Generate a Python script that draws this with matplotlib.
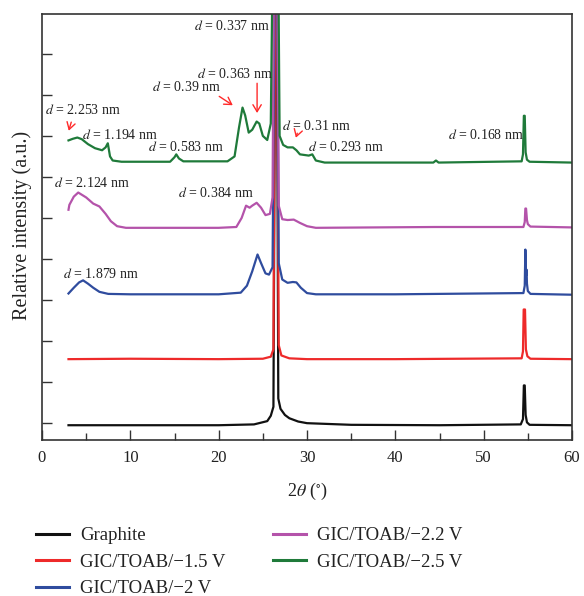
import matplotlib
matplotlib.use("Agg")
import matplotlib.pyplot as plt
from matplotlib.ticker import MultipleLocator, NullFormatter

plt.rcParams['font.family'] = ['Liberation Serif', 'DejaVu Serif']
plt.rcParams['mathtext.fontset'] = 'stix'

# ---- data (2theta, relative intensity with vertical offsets) ----
graphite_x = [3, 10, 20, 24, 25.5, 25.9, 26.2, 26.44, 26.56, 26.75, 27.0, 27.5, 28, 29, 30, 35, 45,
              54.2, 54.45, 54.55, 54.65, 54.75, 54.9, 55.2, 60]
graphite_y = [-0.05, -0.05, -0.05, -0.03, 0.05, 0.18, 0.4, 12, 12, 0.6, 0.35, 0.2, 0.12, 0.04, 0.0, -0.04, -0.05,
              -0.03, 0.1, 0.92, 0.92, 0.2, 0.02, -0.04, -0.05]

v15_x = [3, 10, 20, 25, 25.9, 26.2, 26.42, 26.56, 26.8, 27.1, 28, 30, 40,
         54.3, 54.45, 54.53, 54.68, 54.78, 54.95, 55.3, 60]
v15_y = [1.56, 1.57, 1.56, 1.57, 1.62, 1.8, 12, 12, 1.9, 1.65, 1.58, 1.56, 1.56,
         1.58, 1.75, 2.77, 2.77, 1.8, 1.63, 1.57, 1.56]

v20_x = [3, 3.6, 4.2, 4.65, 5.2, 5.8, 6.5, 7.5, 10, 20, 22.5, 23.2, 23.8, 24.4, 24.8, 25.3, 25.7, 26.1,
         26.38, 26.58, 26.8, 27.2, 27.8, 28.4, 28.8, 29.3, 30, 31, 40,
         54.5, 54.65, 54.72, 54.8, 54.86, 54.9, 55.0, 55.3, 60]
v20_y = [3.16, 3.3, 3.43, 3.48, 3.4, 3.3, 3.2, 3.15, 3.14, 3.14, 3.18, 3.35, 3.7, 4.11, 3.9, 3.65, 3.62, 3.8,
         12, 12, 3.9, 3.5, 3.42, 3.44, 3.43, 3.3, 3.17, 3.14, 3.14,
         3.17, 3.35, 4.23, 3.6, 3.74, 3.4, 3.22, 3.15, 3.13]

v22_x = [3, 3.1, 3.6, 4.1, 5.0, 5.8, 6.5, 7.2, 7.8, 8.5, 9.5, 20, 22, 22.6, 23.1, 23.5, 23.8, 24.3, 24.8,
         25.3, 25.8, 26.1, 26.28, 26.62, 26.8, 27.2, 27.8, 28.5, 29.2, 30, 31, 44.5, 54.5,
         54.65, 54.72, 54.8, 54.9, 55.0, 55.3, 60]
v22_y = [5.2, 5.32, 5.52, 5.62, 5.5, 5.35, 5.28, 5.1, 4.92, 4.8, 4.76, 4.76, 4.78, 5.0, 5.3, 5.25, 5.3, 5.37, 5.25,
         5.07, 5.1, 5.5, 12, 12, 5.3, 4.97, 4.95, 4.96, 4.88, 4.8, 4.76, 4.78, 4.78,
         4.9, 5.23, 5.23, 4.95, 4.85, 4.79, 4.77]

v25_x = [3, 3.5, 4.0, 4.5, 5.2, 6.0, 6.8, 7.2, 7.45, 7.7, 8.0, 9, 14.5, 15.0, 15.2, 15.5, 16, 21, 21.8,
         22.3, 22.7, 23.0, 23.4, 23.8, 24.3, 24.6, 25.0, 25.5, 25.9, 26.15, 26.72, 26.9, 27.3, 27.8, 28.4,
         28.8, 29.2, 30.2, 30.6, 31.0, 32, 44.3, 44.6, 44.9, 54.3, 54.45, 54.55, 54.65, 54.75, 54.9, 55.2, 60]
v25_y = [6.89, 6.93, 6.96, 6.92, 6.8, 6.7, 6.65, 6.72, 6.82, 6.5, 6.4, 6.37, 6.37, 6.48, 6.55, 6.45, 6.38, 6.38, 6.5,
         7.2, 7.69, 7.5, 7.08, 7.15, 7.35, 7.3, 7.0, 6.9, 7.3, 12, 12, 7.0, 6.78, 6.72, 6.72,
         6.65, 6.55, 6.52, 6.55, 6.4, 6.35, 6.35, 6.4, 6.35, 6.38, 6.55, 7.49, 7.49, 6.6, 6.42, 6.37, 6.35]

series = [
    ("Graphite", graphite_x, graphite_y, "#111111"),
    ("GIC/TOAB/\u22121.5 V", v15_x, v15_y, "#ee2a2a"),
    ("GIC/TOAB/\u22122 V", v20_x, v20_y, "#2f4c9e"),
    ("GIC/TOAB/\u22122.2 V", v22_x, v22_y, "#b453aa"),
    ("GIC/TOAB/\u22122.5 V", v25_x, v25_y, "#1f7a3a"),
]

# annotations: text, x, y, ha
labels = [
    ("0.337", 25.82, 9.68, "right"),
    ("0.363", 17.55, 8.52, "left"),
    ("0.39", 12.46, 8.18, "left"),
    ("2.253", 0.34, 7.64, "left"),
    ("1.194", 4.53, 7.03, "left"),
    ("0.583", 12.0, 6.74, "left"),
    ("2.124", 1.36, 5.84, "left"),
    ("0.384", 15.4, 5.60, "left"),
    ("1.879", 2.38, 3.63, "left"),
    ("0.31", 27.18, 7.25, "left"),
    ("0.293", 30.12, 6.74, "left"),
    ("0.168", 45.98, 7.01, "left"),
]
arrows = [
    ((3.4, 7.40), (2.94, 7.06)),
    ((19.8, 8.0), (21.86, 7.71)),
    ((24.35, 8.35), (24.35, 7.49)),
    ((28.99, 7.13), (28.65, 6.89)),
]

fig = plt.figure(figsize=(5.84, 5.96), dpi=100)
ax = fig.add_axes([42/584, 1-440/596, 530/584, 426/596])

for name, xs, ys, c in series:
    ax.plot(xs, ys, color=c, lw=1.6, label=name, solid_joinstyle='round')

for t, x, y, ha in labels:
    ax.text(x, y, r'$d$ = ' + t + ' nm', fontsize=10, ha=ha, va='center', color='#222222')

for (x0, y0), (x1, y1) in arrows:
    ax.annotate('', xy=(x1, y1), xytext=(x0, y0),
                arrowprops=dict(arrowstyle='->,head_length=0.5,head_width=0.3', color='#ff2a2a', lw=1.0))

ax.set_xlim(0, 60)
ax.set_ylim(-0.41, 9.97)
ax.xaxis.set_major_locator(MultipleLocator(10))
ax.xaxis.set_minor_locator(MultipleLocator(5))
ax.yaxis.set_major_locator(MultipleLocator(1))
ax.yaxis.set_major_formatter(NullFormatter())
ax.tick_params(axis='both', which='major', direction='in', length=7, width=1, color='#333333',
               labelsize=12, labelcolor='#222222')
ax.tick_params(axis='x', which='minor', direction='in', length=5, width=1, color='#333333')
ax.tick_params(axis='x', pad=7)
for s in ax.spines.values():
    s.set_color('#333333')
    s.set_linewidth(1.2)

ax.set_xlabel(r'2$\theta$ ($^{\circ}$)', fontsize=13, color='#222222', labelpad=11)
fig.text(22/584, 1-225/596, 'Relative intensity (a.u.)', rotation=90, ha='center', va='center',
         fontsize=14.5, color='#222222')

fig.legend(loc='upper left', bbox_to_anchor=(36/584, 1-527/596), ncol=2, frameon=False,
           fontsize=13.5, handlelength=1.75, handletextpad=0.6, columnspacing=2.55,
           labelspacing=0.5, borderpad=0, borderaxespad=0)
for t in fig.legends[0].get_texts():
    t.set_color('#222222')
for l in fig.legends[0].get_lines():
    l.set_linewidth(2.2)

fig.savefig('out.png', dpi=100)
